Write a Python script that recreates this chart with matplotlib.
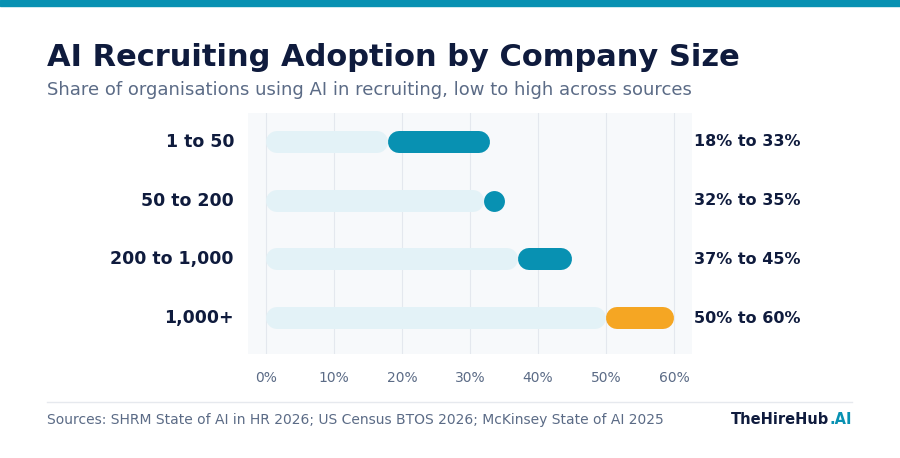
import matplotlib

matplotlib.use("Agg")
import matplotlib.pyplot as plt
from matplotlib.patches import Rectangle

plt.rcParams["font.family"] = ["DejaVu Sans"]

categories = ["1 to 50", "50 to 200", "200 to 1,000", "1,000+"]
low = [18, 32, 37, 50]
high = [33, 35, 45, 60]
range_labels = ["18% to 33%", "32% to 35%", "37% to 45%", "50% to 60%"]
ticks = [0, 10, 20, 30, 40, 50, 60]

NAVY = "#0f1b3d"
GRAY = "#5b6b86"
TEAL = "#0891b2"
ORANGE = "#f5a623"
TRACK = "#e3f2f7"

W, H = 900, 458
fig = plt.figure(figsize=(9, 4.58), dpi=100)
fig.patches.append(Rectangle((0, 1 - 6 / H), 1, 6 / H, transform=fig.transFigure, color=TEAL))

fig.text(47 / W, 1 - 57 / H, "AI Recruiting Adoption by Company Size", fontsize=22,
         fontweight="bold", color=NAVY, va="center")
fig.text(47 / W, 1 - 90 / H, "Share of organisations using AI in recruiting, low to high across sources",
         fontsize=13, color=GRAY, va="center")

ax = fig.add_axes([248 / W, 1 - 354 / H, (692 - 248) / W, (354 - 113) / H])
ax.set_facecolor("#f7f9fb")
for s in ax.spines.values():
    s.set_visible(False)
ax.set_xlim(-2.65, 62.65)
ax.set_ylim(3.61, -0.49)
ax.set_xticks(ticks)
ax.set_xticklabels([f"{t}%" for t in ticks], fontsize=10, color=GRAY)
ax.tick_params(length=0, pad=12)
ax.set_yticks([])
for t in ticks:
    ax.axvline(t, color="#e4e8ee", lw=0.8, zorder=0)

px = 65.3 / 444  # data units per pixel
lw = 22 * 72 / 100
r = 11 * px
for i, cat in enumerate(categories):
    ax.plot([r, low[i] - r], [i, i], color=TRACK, lw=lw, solid_capstyle="round", zorder=1)
    color = ORANGE if i == len(categories) - 1 else TEAL
    a, b = low[i] + r, high[i] - r
    if a >= b:
        ax.scatter([(low[i] + high[i]) / 2], [i], s=(lw * 0.95) ** 2, color=color, zorder=2,
                   linewidths=0)
    else:
        ax.plot([a, b], [i, i], color=color, lw=lw, solid_capstyle="round", zorder=2)
    ax.text(-2.65 - 14 * px, i, cat, ha="right", va="center", fontsize=12.5,
            fontweight="bold", color=NAVY)
    ax.text(62.65 + 2 * px, i, range_labels[i], ha="left", va="center", fontsize=11.5,
            fontweight="bold", color=NAVY, clip_on=False)

fig.add_artist(plt.Line2D([47 / W, 852 / W], [1 - 402 / H] * 2, color="#e6e9ee", lw=1))
fig.text(47 / W, 1 - 420 / H, "Sources: SHRM State of AI in HR 2026; US Census BTOS 2026; McKinsey State of AI 2025",
         fontsize=10, color=GRAY, va="center")
t1 = fig.text(852 / W, 1 - 420 / H, ".AI", fontsize=10.5, fontweight="bold", color=TEAL,
              va="center", ha="right")
fig.canvas.draw()
bb = t1.get_window_extent()
fig.text(bb.x0 / W, 1 - 420 / H, "TheHireHub", fontsize=10.5, fontweight="bold", color=NAVY,
         va="center", ha="right")

fig.savefig("out.png", dpi=100)
